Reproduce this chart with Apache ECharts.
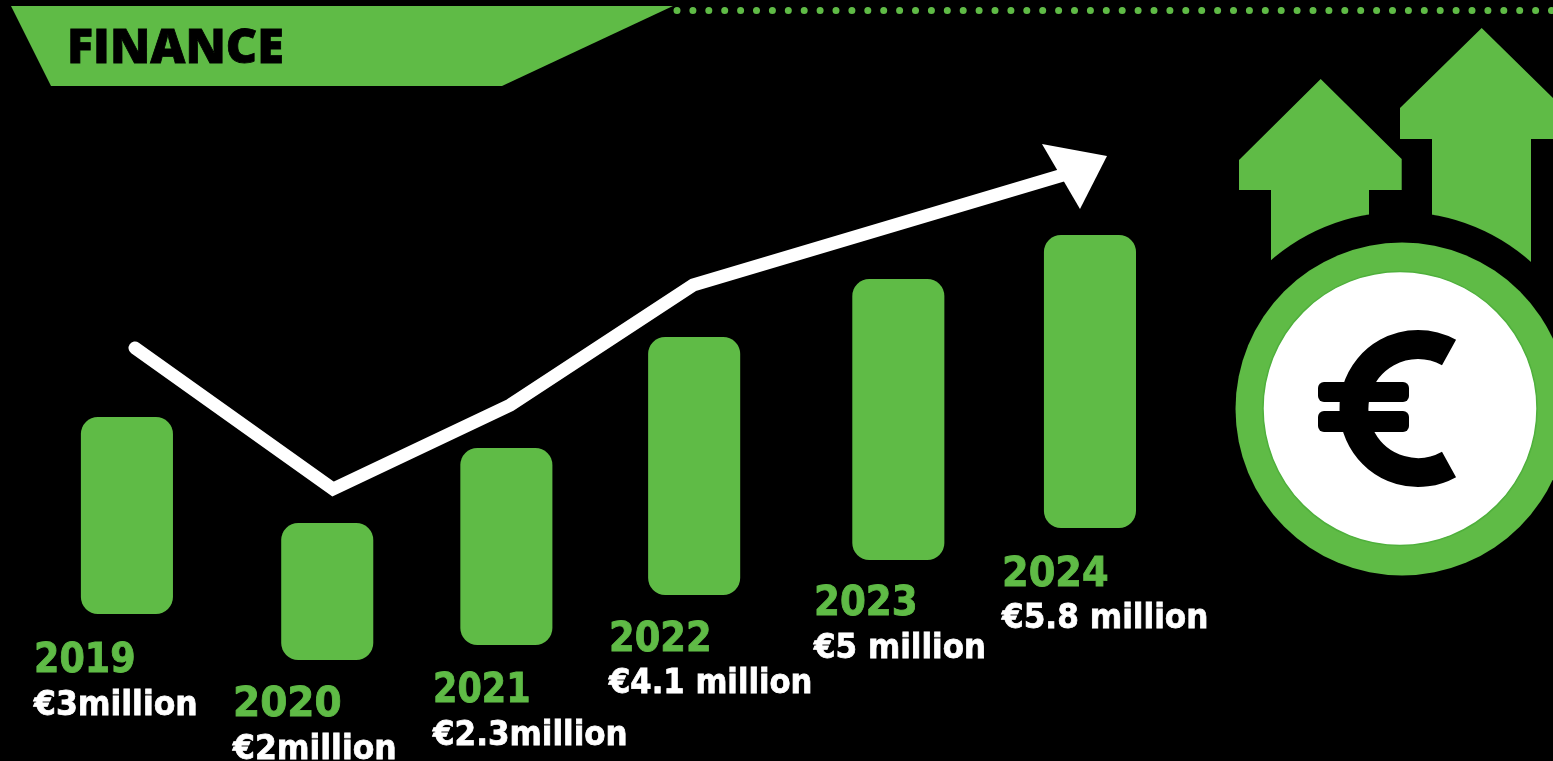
<!DOCTYPE html>
<html>
<head>
<meta charset="utf-8">
<style>html,body{margin:0;padding:0;background:#000;overflow:hidden}#c{width:1553px;height:761px}</style>
<script src="https://cdn.jsdelivr.net/npm/echarts@6/dist/echarts.min.js"></script>
</head>
<body>
<div id="c"></div>
<script>
// Data
const years = ['2019', '2020', '2021', '2022', '2023', '2024'];
const valueLabels = ['€3million', '€2million', '€2.3million', '€4.1 million', '€5 million', '€5.8 million'];
const barYear = [2019, 2020.04, 2020.97, 2021.945, 2023.005, 2024];
const barLow = [2.94, 2.02, 2.32, 3.32, 4.02, 4.66];
const barHigh = [6.88, 4.76, 6.26, 8.48, 9.64, 10.52];
const trendYear = [2019.042, 2020.07, 2020.99, 2021.94, 2023.93];
const trendLevel = [8.26, 5.44, 7.12, 9.52, 11.8];

// Label layout (page positions and fitted widths of the text blocks)
const labelLeft = [34, 233, 433, 609, 814, 1002];
const yearMid = [662, 706, 692, 641, 605, 576];
const valueMid = [706, 750, 736, 684, 649, 619];
const yearFit = [1, 1.07, 0.96, 1.01, 1.02, 1.05];
const valueFit = [1.025, 1.025, 1.01, 1, 1.01, 1.015];

const GREEN = '#5fbb46';
const FONT = '"DejaVu Sans", sans-serif';

const chart = echarts.init(document.getElementById('c'), null, { renderer: 'canvas' });
const rows = years.map((y, i) => [barYear[i], barLow[i], barHigh[i], i]);

const poly = (points, fill, z) => ({ type: 'polygon', z: z, silent: true, shape: { points: points }, style: { fill: fill } });
// Text stretched about its own left middle, with a thin outline for the heavier look of the reference
const tallText = (text, x, y, fill, font, fitX, fitY, outline) => ({
  type: 'text', x: x, y: y, scaleX: fitX, scaleY: fitY,
  style: { x: 0, y: 0, text: text, fill: fill, stroke: fill, lineWidth: outline, font: font, textAlign: 'left', textVerticalAlign: 'middle' }
});

chart.setOption({
  backgroundColor: '#000',
  animation: false,
  grid: { left: 0, right: 0, top: 0, bottom: 0 },
  xAxis: { type: 'value', min: 2018.341, max: 2026.404, show: false },
  yAxis: { type: 'value', min: 0, max: 15.22, show: false },
  series: [
    {
      type: 'custom',
      name: 'Finance',
      coordinateSystem: 'cartesian2d',
      data: rows,
      encode: { x: 0, y: [1, 2] },
      z: 3,
      silent: true,
      renderItem: function (params, api) {
        const i = api.value(3);
        const w = api.size([0.478, 0])[0];
        const c = api.coord([api.value(0), api.value(2)]);
        const b = api.coord([api.value(0), api.value(1)]);
        return {
          type: 'group',
          children: [
            { type: 'rect', shape: { x: c[0] - w / 2, y: c[1], width: w, height: b[1] - c[1], r: 17 }, style: { fill: GREEN } },
            tallText(years[i], labelLeft[i], yearMid[i], GREEN, 'bold 36.5px ' + FONT, yearFit[i], 1.1, 0.8),
            tallText(valueLabels[i], labelLeft[i], valueMid[i], '#fff', 'bold 30.7px ' + FONT, valueFit[i], 1.12, 0.7)
          ]
        };
      }
    },
    {
      type: 'line',
      name: 'Trend',
      data: trendYear.map((x, i) => [x, trendLevel[i]]),
      showSymbol: false,
      symbol: 'none',
      silent: true,
      z: 4,
      lineStyle: { color: '#fff', width: 13, cap: 'round', join: 'miter' }
    },
    {
      type: 'scatter',
      name: 'Trend head',
      data: [[trendYear[4], trendLevel[4]]],
      symbol: 'path://M0 0L65 12L38 65Z',
      symbolSize: [65, 65],
      symbolOffset: [-2, 5.5],
      silent: true,
      z: 5,
      itemStyle: { color: '#fff', opacity: 1 }
    }
  ],
  graphic: { elements: [
    { type: 'line', z: 1, silent: true, shape: { x1: 677, y1: 10.5, x2: 1560, y2: 10.5 }, style: { stroke: GREEN, lineWidth: 7, lineCap: 'round', lineDash: [0.01, 15.89] } },
    poly([[11, 6], [673, 6], [502, 86], [51, 86]], GREEN, 2),
    { type: 'text', z: 3, silent: true, style: { x: 67, y: 49, text: 'FINANCE', fill: '#000', stroke: '#000', lineWidth: 0.8, font: '800 48.4px "Open Sans", sans-serif', textAlign: 'left', textVerticalAlign: 'middle' } },
    poly([[1320.7, 79], [1401.7, 159], [1401.7, 190], [1369, 190], [1369, 300], [1271, 300], [1271, 190], [1239, 190], [1239, 160]], GREEN, 1),
    poly([[1481.7, 28], [1553, 98], [1553, 139], [1531, 139], [1531, 300], [1432, 300], [1432, 139], [1400, 139], [1400, 108]], GREEN, 1),
    { type: 'circle', z: 2, silent: true, shape: { cx: 1400, cy: 409, r: 197 }, style: { fill: '#000' } },
    { type: 'circle', z: 3, silent: true, shape: { cx: 1402, cy: 409, r: 166.5 }, style: { fill: GREEN } },
    { type: 'circle', z: 4, silent: true, shape: { cx: 1400, cy: 408.5, r: 137 }, style: { fill: '#fff', stroke: '#4fb03c', lineWidth: 1.5 } },
    { type: 'arc', z: 5, silent: true, shape: { cx: 1418, cy: 408.5, r: 64, startAngle: 61 * Math.PI / 180, endAngle: 299 * Math.PI / 180, clockwise: true }, style: { fill: 'none', stroke: '#000', lineWidth: 29, lineCap: 'butt' } },
    { type: 'rect', z: 5, silent: true, shape: { x: 1318, y: 382, width: 91, height: 20, r: 6 }, style: { fill: '#000' } },
    { type: 'rect', z: 5, silent: true, shape: { x: 1318, y: 411, width: 91, height: 21, r: 6 }, style: { fill: '#000' } }
  ] }
});
</script>
</body>
</html>
